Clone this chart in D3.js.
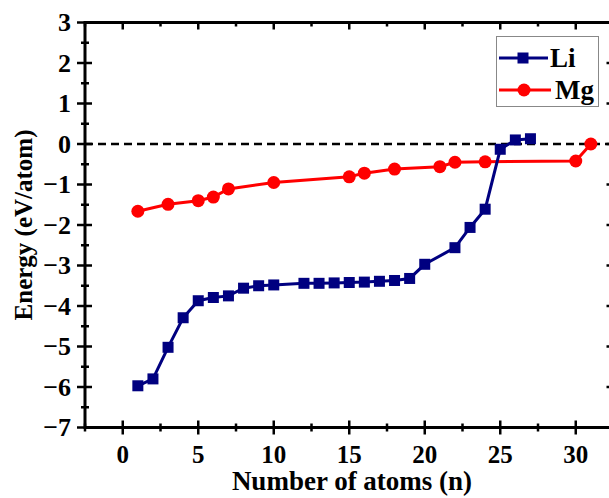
<!DOCTYPE html>
<html>
<head>
<meta charset="utf-8">
<script src="https://cdn.jsdelivr.net/npm/d3@7"></script>
<style>
  body { margin: 0; background: #fff; }
</style>
</head>
<body>
<script>
const w = 609, h = 498;
const font = "'Liberation Serif', 'DejaVu Serif', serif";

// data
const liN = [1, 2, 3, 4, 5, 6, 7, 8, 9, 10, 12, 13, 14, 15, 16, 17, 18, 19, 20, 22, 23, 24, 25, 26, 27];
const liE = [-5.97, -5.8, -5.02, -4.29, -3.87, -3.79, -3.75, -3.56, -3.5, -3.48, -3.44, -3.44, -3.43, -3.42, -3.41, -3.39, -3.37, -3.32, -2.97, -2.56, -2.06, -1.61, -0.13, 0.1, 0.13];
const mgN = [1, 3, 5, 6, 7, 10, 15, 16, 18, 21, 22, 24, 30, 31];
const mgE = [-1.66, -1.49, -1.4, -1.31, -1.11, -0.95, -0.81, -0.72, -0.62, -0.56, -0.45, -0.44, -0.42, 0];
const xTicks = [0, 5, 10, 15, 20, 25, 30];
const yTicks = [-7, -6, -5, -4, -3, -2, -1, 0, 1, 2, 3];

const margin = { top: 22.5, right: -4.5, bottom: 70.5, left: 85 };

let svg = d3.select("body").append("svg")
  .attr("width", w).attr("height", h)
  .attr("font-family", font)
  .attr("font-weight", "bold");

const x = d3.scaleLinear().domain([-2.5, 32.5]).range([margin.left, w - margin.right]);
const y = d3.scaleLinear().domain([-7, 3]).range([h - margin.bottom, margin.top]);

const x0 = x.range()[0], x1 = x.range()[1], y0 = y.range()[0], y1 = y.range()[1];

// zero line
svg.append("line")
  .attr("x1", x0).attr("x2", x1)
  .attr("y1", y(0)).attr("y2", y(0))
  .attr("stroke", "#000")
  .attr("stroke-width", 2.5)
  .attr("stroke-dasharray", "8,5");

// ticks
const minorX = d3.range(-2.5, 32.6, 2.5).filter(function (d) { return d % 5 !== 0; });
const minorY = d3.range(-6.5, 3, 1);

function tick(x1_, y1_, x2_, y2_) {
  svg.append("line")
    .attr("x1", x1_).attr("y1", y1_).attr("x2", x2_).attr("y2", y2_)
    .attr("stroke", "#000").attr("stroke-width", 2.5);
}
xTicks.forEach(function (d) {
  tick(x(d), y0 - 7, x(d), y0 + 7);
  tick(x(d), y1, x(d), y1 + 7);
});
minorX.forEach(function (d) {
  tick(x(d), y0 - 4, x(d), y0 + 4);
  tick(x(d), y1, x(d), y1 + 4);
});
yTicks.forEach(function (d) {
  tick(x0 - 8, y(d), x0 + 7, y(d));
  tick(x1 - 7, y(d), x1, y(d));
});
minorY.forEach(function (d) {
  tick(x0 - 4, y(d), x0 + 4, y(d));
  tick(x1 - 4, y(d), x1, y(d));
});

// frame
svg.append("rect")
  .attr("x", x0).attr("y", y1)
  .attr("width", x1 - x0).attr("height", y0 - y1)
  .attr("fill", "none")
  .attr("stroke", "#000")
  .attr("stroke-width", 3);

// tick labels
svg.selectAll(".xl")
  .data(xTicks)
  .enter()
  .append("text")
  .attr("font-family", font)
  .attr("x", function (d) { return x(d); })
  .attr("y", 463)
  .attr("text-anchor", "middle")
  .attr("font-size", "25px")
  .text(function (d) { return d; });

svg.selectAll(".yl")
  .data(yTicks)
  .enter()
  .append("text")
  .attr("font-family", font)
  .attr("x", 71)
  .attr("y", function (d) { return y(d); })
  .attr("dy", ".34em")
  .attr("text-anchor", "end")
  .attr("font-size", "26px")
  .text(function (d) { return d < 0 ? "\u2212" + Math.abs(d) : d; });

// axis titles
svg.append("text")
  .attr("font-family", font)
  .attr("x", 352)
  .attr("y", 490)
  .attr("text-anchor", "middle")
  .attr("font-size", "27px")
  .text("Number of atoms (n)");

svg.append("text")
  .attr("font-family", font)
  .attr("transform", "translate(32," + (y0 + y1) / 2 + ") rotate(-90)")
  .attr("text-anchor", "middle")
  .attr("font-size", "25px")
  .text("Energy (eV/atom)");

// series
const li = liN.map(function (d, i) { return { n: d, e: liE[i] }; });
const mg = mgN.map(function (d, i) { return { n: d, e: mgE[i] }; });

const lineFunc = d3.line()
  .x(function (d) { return x(d.n); })
  .y(function (d) { return y(d.e); });

svg.append("path")
  .attr("d", lineFunc(mg))
  .attr("stroke", "#ff0000")
  .attr("stroke-width", 3)
  .attr("fill", "none");

svg.selectAll(".mg")
  .data(mg)
  .enter()
  .append("circle")
  .attr("cx", function (d) { return x(d.n); })
  .attr("cy", function (d) { return y(d.e); })
  .attr("r", 6.5)
  .attr("fill", "#ff0000");

svg.append("path")
  .attr("d", lineFunc(li))
  .attr("stroke", "#000080")
  .attr("stroke-width", 3)
  .attr("fill", "none");

svg.selectAll(".li")
  .data(li)
  .enter()
  .append("rect")
  .attr("x", function (d) { return x(d.n) - 5.5; })
  .attr("y", function (d) { return y(d.e) - 5.5; })
  .attr("width", 11)
  .attr("height", 11)
  .attr("fill", "#000080");

// legend
let lg = svg.append("g");
lg.append("rect")
  .attr("x", 496.5).attr("y", 36.5)
  .attr("width", 102).attr("height", 70)
  .attr("fill", "#fff")
  .attr("stroke", "#888")
  .attr("stroke-width", 1);

lg.append("line").attr("x1", 499).attr("x2", 548).attr("y1", 58).attr("y2", 58)
  .attr("stroke", "#000080").attr("stroke-width", 3);
lg.append("rect").attr("x", 517.5).attr("y", 52.5).attr("width", 11).attr("height", 11)
  .attr("fill", "#000080");
lg.append("text").attr("font-family", font).attr("x", 550).attr("y", 58).attr("dy", ".35em")
  .attr("font-size", "27px").text("Li");

lg.append("line").attr("x1", 499).attr("x2", 551).attr("y1", 90).attr("y2", 90)
  .attr("stroke", "#ff0000").attr("stroke-width", 3);
lg.append("circle").attr("cx", 524).attr("cy", 90).attr("r", 6.5)
  .attr("fill", "#ff0000");
lg.append("text").attr("font-family", font).attr("x", 555).attr("y", 90).attr("dy", ".35em")
  .attr("font-size", "27px").text("Mg");
</script>
</body>
</html>
